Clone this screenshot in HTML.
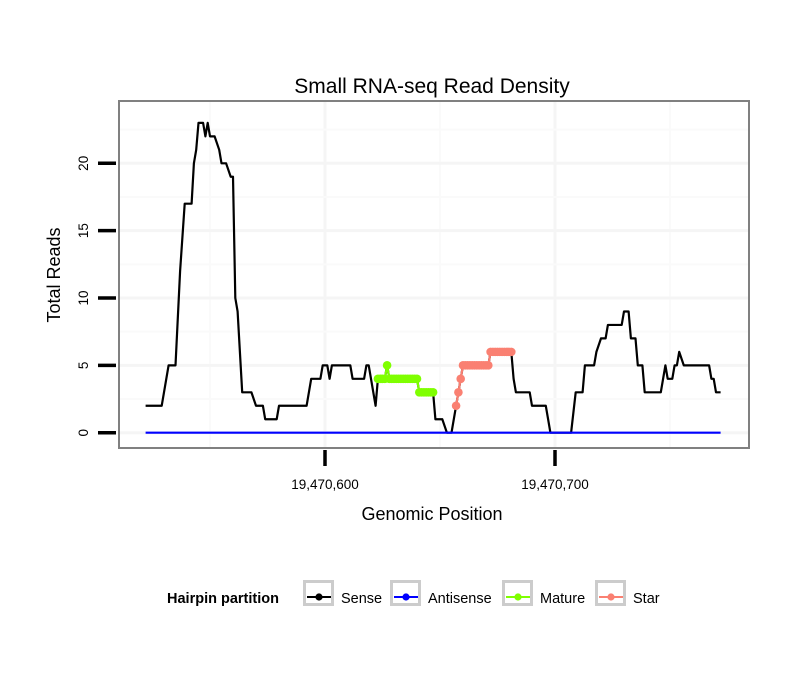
<!DOCTYPE html>
<html><head><meta charset="utf-8"><style>
body{margin:0;background:#fff;font-family:"Liberation Sans",sans-serif;}
svg text{font-family:"Liberation Sans",sans-serif;}
</style></head><body>
<svg id="c" width="810" height="690" xmlns="http://www.w3.org/2000/svg">
<rect width="810" height="690" fill="#fff"/>
<text x="432" y="93" font-size="21" text-anchor="middle">Small RNA-seq Read Density</text>
<g id="grid"></g>
<g id="series"></g>
<rect x="119" y="101" width="630" height="347" fill="none" stroke="#808080" stroke-width="2"/>
<g id="axes"></g>
<text x="432" y="520" font-size="18" text-anchor="middle">Genomic Position</text>
<text transform="translate(60,275) rotate(-90)" font-size="18" text-anchor="middle">Total Reads</text>
<g id="legend">
<text x="167" y="603" font-size="14.5" font-weight="bold">Hairpin partition</text>
</g>
</svg>
<script>
const senseX=[-78,-71,-68,-65,-63,-61,-58,-57,-56,-55,-53,-52,-51,-50,-48,-46,-45,-43,-41,-40,-39,-38,-36,-32,-30,-27,-26,-21,-20,-8,-7,-6,-2,-1,1,2,3,11,12,17,18,19,20,22,23,26,27,28,40,41,47,48,51,53,55,57,58,59,60,71,72,81,82,83,89,90,96,97,98,107,109,112,113,117,118,120,122,123,129,130,132,133,135,136,138,139,146,148,149,151,152,153,154,156,167,168,169,170,172];
const senseY=[2,2,5,5,12,17,17,20,21,23,23,22,23,22,22,21,20,20,19,19,10,9,3,3,2,2,1,1,2,2,3,4,4,5,5,4,5,5,4,4,5,5,4,2,4,4,5,4,4,3,3,1,1,0,0,2,3,4,5,5,6,6,4,3,3,2,2,1,0,0,3,3,5,5,6,7,7,8,8,9,9,7,7,5,5,3,3,5,4,4,5,5,6,5,5,4,4,3,3];
const matureX=[23,24,25,26,27,28,29,30,31,32,33,34,35,36,37,38,39,40,41,42,43,44,45,46,47];
const matureY=[4,4,4,4,5,4,4,4,4,4,4,4,4,4,4,4,4,4,3,3,3,3,3,3,3];
const starX=[57,58,59,60,61,62,63,64,65,66,67,68,69,70,71,72,73,74,75,76,77,78,79,80,81];
const starY=[2,3,4,5,5,5,5,5,5,5,5,5,5,5,5,6,6,6,6,6,6,6,6,6,6];
const antiX=[-78,172];
const antiY=[0,0];
const yTicks=[0,5,10,15,20];
const xTicks=[0,100];
const xTickLabels=["19,470,600","19,470,700"];
const NS="http://www.w3.org/2000/svg";
const sx=v=>325+v*2.3, sy=v=>432.7-v*13.47;
function mk(t,a,p){const e=document.createElementNS(NS,t);for(const k in a)e.setAttribute(k,a[k]);p.appendChild(e);return e;}
const grid=document.getElementById('grid'),series=document.getElementById('series'),axes=document.getElementById('axes');
[-50,50,150].forEach(v=>{mk('line',{x1:sx(v),x2:sx(v),y1:101,y2:448,stroke:'#fafafa','stroke-width':2},grid);});
xTicks.forEach(v=>{mk('line',{x1:sx(v),x2:sx(v),y1:101,y2:448,stroke:'#f5f5f5','stroke-width':3},grid);});
[2.5,7.5,12.5,17.5,22.5].forEach(v=>{mk('line',{x1:119,x2:749,y1:sy(v),y2:sy(v),stroke:'#fafafa','stroke-width':2},grid);});
yTicks.forEach(v=>{mk('line',{x1:119,x2:749,y1:sy(v),y2:sy(v),stroke:'#f5f5f5','stroke-width':3},grid);});
function line(xs,ys,col,name){const l=mk('polyline',{points:xs.map((x,i)=>sx(x)+','+sy(ys[i])).join(' '),fill:'none',stroke:col,'stroke-width':2.2,'stroke-linejoin':'round'},series);

}
function pts(xs,ys,col,name){xs.forEach((x,i)=>{const c=mk('circle',{cx:sx(x),cy:sy(ys[i]),r:4.3,fill:col},series);

});}
line(senseX,senseY,'#000','sense-line');
line(antiX,antiY,'#0000ff','antisense-line');
line(matureX,matureY,'#7fff00','mature-line');
pts(matureX,matureY,'#7fff00','mature-point');
line(starX,starY,'#fa8072','star-line');
pts(starX,starY,'#fa8072','star-point');
yTicks.forEach(v=>{const t=mk('line',{x1:98,x2:116,y1:sy(v),y2:sy(v),stroke:'#000','stroke-width':3.5},axes);


const l=mk('text',{transform:`translate(88,${sy(v)}) rotate(-90)`,'font-size':13.5,'text-anchor':'middle'},axes);l.textContent=v;

});
xTicks.forEach((v,i)=>{const t=mk('line',{x1:sx(v),x2:sx(v),y1:450,y2:466,stroke:'#000','stroke-width':3.5},axes);


const l=mk('text',{x:sx(v),y:489,'font-size':13.5,'text-anchor':'middle'},axes);l.textContent=xTickLabels[i];

});
const lg=document.getElementById('legend');
const legNames=["Sense","Antisense","Mature","Star"],legCols=["#000","#0000ff","#7fff00","#fa8072"],legBox=[303,390,502,595];
legNames.forEach((n,i)=>{const g=mk('g',{},lg);


const x=legBox[i];
mk('rect',{x:x+1.5,y:581.5,width:28,height:23,fill:'#fff',stroke:'#cccccc','stroke-width':3},g);
mk('line',{x1:x+4,x2:x+28,y1:597,y2:597,stroke:legCols[i],'stroke-width':2},g);
mk('circle',{cx:x+16,cy:597,r:3.6,fill:legCols[i]},g);
const t=mk('text',{x:x+38,y:603,'font-size':14.5},g);t.textContent=n;});
</script>
</body></html>
